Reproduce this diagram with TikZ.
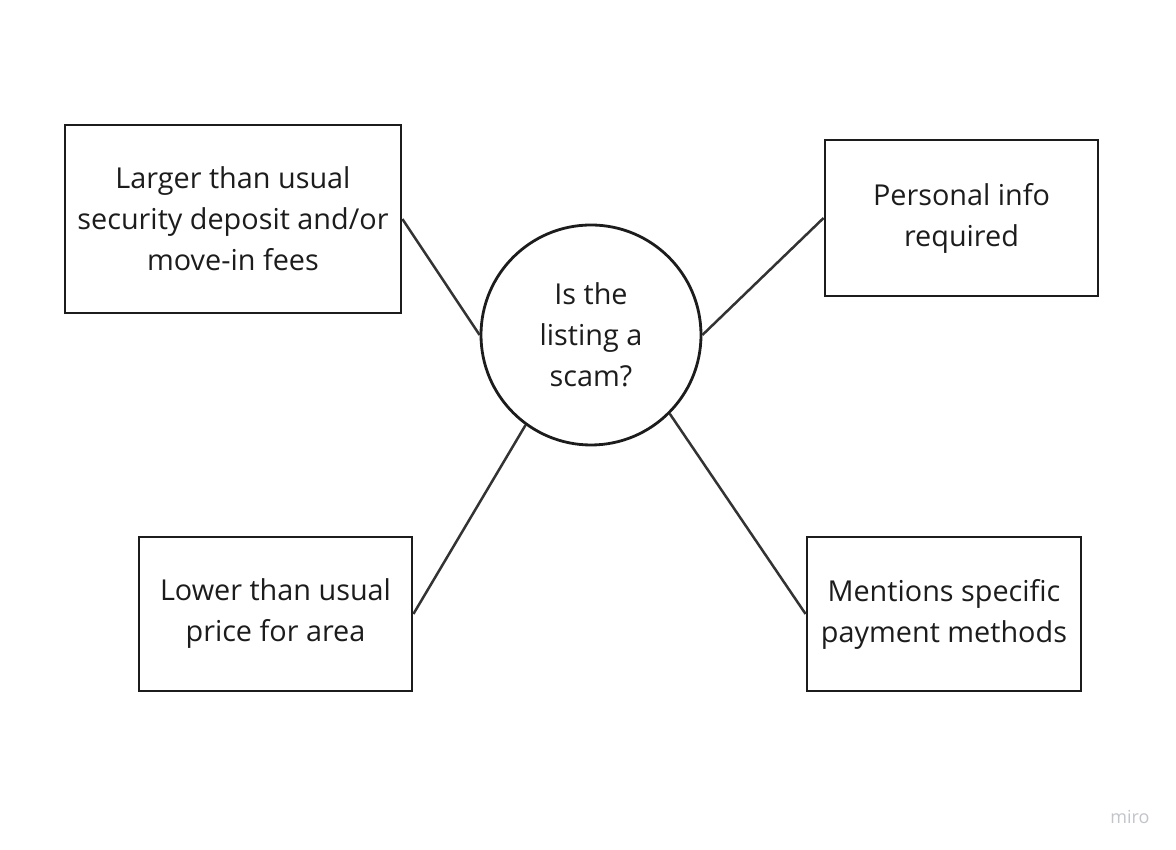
\documentclass[tikz,border=0pt]{standalone}
\usepackage{fontspec}
\setmainfont{Open Sans}
\definecolor{ink}{HTML}{1C1C1C}
\definecolor{edge}{HTML}{333333}
\definecolor{wm}{HTML}{C2C4CA}
\begin{document}
\begin{tikzpicture}[x=1pt,y=1pt,
  box/.style={draw=ink,line width=2.8pt,rectangle,align=center,text=ink,inner sep=0pt,
    font=\fontsize{28.8}{41}\selectfont},
  hub/.style={draw=ink,line width=2.8pt,circle,align=center,text=ink,inner sep=0pt,
    minimum size=220pt,font=\fontsize{28.8}{41}\selectfont},
  link/.style={draw=edge,line width=2.5pt}]
\useasboundingbox (0,0) rectangle (1176,850);
\node[hub] (c) at (591,515) {Is the\\listing a\\scam?};
\node[box,minimum width=336pt,minimum height=188pt] (b1) at (233,631) {Larger than usual\\security deposit and/or\\move-in fees};
\node[box,minimum width=273pt,minimum height=156pt] (b2) at (961.5,632) {Personal info\\required};
\node[box,minimum width=273pt,minimum height=154pt] (b3) at (275.5,236) {Lower than usual\\price for area};
\node[box,minimum width=274pt,minimum height=154pt] (b4) at (944,236) {Mentions specific\\payment methods};
\draw[link] (b1.east) -- (c.west);
\draw[link] (c.east) -- (b2.west);
\draw[link] (c.234) -- (b3.east);
\draw[link] (c.315) -- (b4.west);
\node[text=wm,font=\fontsize{18}{20}\selectfont,inner sep=0pt] (wmk) at (1130,33) {miro};
\end{tikzpicture}
\end{document}
